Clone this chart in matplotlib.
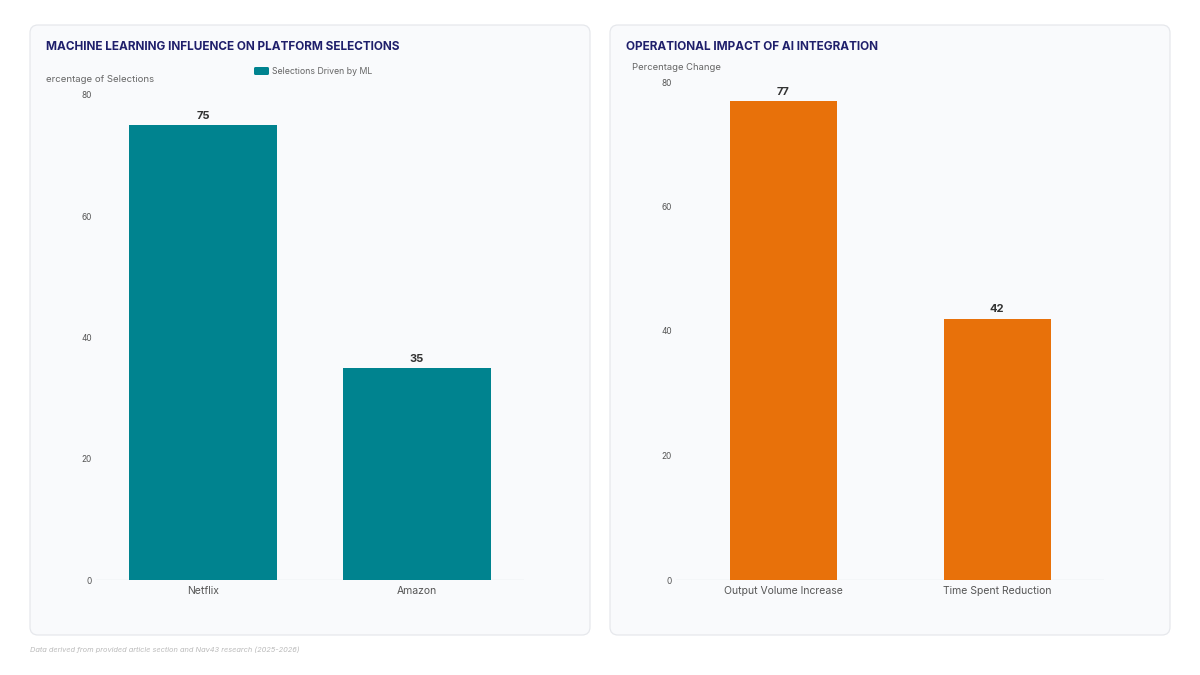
import numpy as np
import matplotlib
matplotlib.use('Agg')
import matplotlib.pyplot as plt
from matplotlib.patches import FancyBboxPatch

plt.rcParams['font.family'] = ['Inter', 'DejaVu Sans']

# data
ml_categories = ['Netflix', 'Amazon']
ml_values = [75, 35]
ops_categories = ['Output Volume Increase', 'Time Spent Reduction']
ops_values = [77, 42]
y_ticks = [0, 20, 40, 60, 80]

teal = '#00838f'
orange = '#e8710a'
navy = '#1f1f6b'
W, H = 1200, 675

fig = plt.figure(figsize=(12, 6.75), dpi=100)
fig.patch.set_facecolor('white')

def px_axes(x0, y0, x1, y1):
    # pixel box (top-left origin) -> figure axes
    return fig.add_axes([x0 / W, (H - y1) / H, (x1 - x0) / W, (y1 - y0) / H], zorder=2)

def card(x0, y0, x1, y1):
    p = FancyBboxPatch((x0 / 100, (H - y1) / 100), (x1 - x0) / 100, (y1 - y0) / 100,
                       boxstyle='round,pad=0,rounding_size=0.08',
                       transform=fig.dpi_scale_trans, facecolor='#f9fafc',
                       edgecolor='#e6e8ec', linewidth=0.9, zorder=-1)
    fig.patches.append(p)

card(30, 25, 590, 635)
card(610, 25, 1170, 635)

def bar_panel(ax, cats, vals, color, width):
    x = np.arange(len(cats))
    ax.bar(x, vals, width=width, color=color, zorder=2)
    for xi, v in zip(x, vals):
        ax.annotate(str(v), (xi, v), xytext=(0, 3), textcoords='offset points',
                    ha='center', va='bottom', fontsize=8,
                    fontweight='bold', color='#333333')
    ax.set_xlim(-0.5, len(cats) - 0.5)
    ax.set_ylim(0, 80)
    ax.set_yticks(y_ticks)
    ax.set_xticks(x)
    ax.set_xticklabels(cats, fontsize=7.5, color='#555555')
    ax.tick_params(axis='y', labelsize=6, colors='#555555', length=0, pad=3)
    ax.tick_params(axis='x', length=0, pad=4)
    ax.patch.set_visible(False)
    for s in ax.spines.values():
        s.set_visible(False)
    ax.axhline(0, color='#e3e6ea', linewidth=1, zorder=1)

ax1 = px_axes(96, 95, 524, 580)
bar_panel(ax1, ml_categories, ml_values, teal, 0.69)

ax2 = px_axes(676, 82, 1104, 580)
bar_panel(ax2, ops_categories, ops_values, orange, 0.5)

# titles and axis labels
fig.text(46 / W, 1 - 47 / H, 'MACHINE LEARNING INFLUENCE ON PLATFORM SELECTIONS',
         fontsize=8.5, fontweight='bold', color=navy, va='center')
fig.text(626 / W, 1 - 47 / H, 'OPERATIONAL IMPACT OF AI INTEGRATION',
         fontsize=8.5, fontweight='bold', color=navy, va='center')
fig.text(46 / W, 1 - 80 / H, 'ercentage of Selections', fontsize=6.9,
         color='#666666', va='center')
fig.text(632 / W, 1 - 68 / H, 'Percentage Change', fontsize=6.8,
         color='#666666', va='center')

# legend
leg = FancyBboxPatch((254 / 100, (H - 75) / 100), 15 / 100, 8 / 100,
                     boxstyle='round,pad=0,rounding_size=0.015',
                     transform=fig.dpi_scale_trans, facecolor=teal,
                     edgecolor='none')
fig.patches.append(leg)
fig.text(272 / W, 1 - 71 / H, 'Selections Driven by ML', fontsize=6.3,
         color='#666666', va='center')

fig.text(30 / W, 1 - 650 / H,
         'Data derived from provided article section and Nav43 research (2025-2026)',
         fontsize=5.35, style='italic', color='#bbbbbb', va='center')

fig.savefig('out.png', dpi=100)
